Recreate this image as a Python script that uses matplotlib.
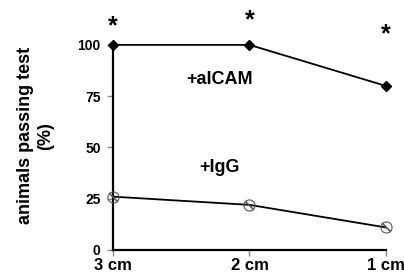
import matplotlib
matplotlib.use('Agg')
import matplotlib.pyplot as plt

plt.rcParams['font.family'] = ['Liberation Sans', 'DejaVu Sans']
plt.rcParams['font.weight'] = 'bold'

distances = ['3 cm', '2 cm', '1 cm']
aicam = [100, 100, 80]
igg = [26, 22, 11]
star_y = [109, 112, 105]
y_ticks = [0, 25, 50, 75, 100]

fig = plt.figure(figsize=(4.04, 2.77), dpi=100)
ax = fig.add_axes([0.28, 0.0975, 0.675, 0.7405])

x = list(range(len(distances)))
ax.plot(x, aicam, color='black', lw=1.3, marker='D', ms=5, clip_on=False, zorder=3)
ax.plot(x, igg, color='black', lw=1.3, zorder=2)
ax.plot(x, igg, ls='none', marker='o', ms=8, mfc='none', mec='#555555', mew=0.8,
        clip_on=False, zorder=3)
ax.plot(x, igg, ls='none', marker=(2, 2, 45), ms=9, mec='#555555', mew=0.8,
        clip_on=False, zorder=3)

for xi, yi in zip(x, star_y):
    ax.text(xi, yi, '*', ha='center', va='center', fontsize=18, fontweight='bold')

ax.text(0.78, 83, '+aICAM', ha='center', va='center', fontsize=13, fontweight='bold')
ax.text(0.78, 40, '+IgG', ha='center', va='center', fontsize=13, fontweight='bold')

ax.set_xlim(0, 2)
ax.set_ylim(0, 100)
ax.set_xticks(x)
ax.set_xticklabels(distances, fontsize=12, fontweight='bold')
ax.set_yticks(y_ticks)
ax.set_yticklabels([str(t) for t in y_ticks], fontsize=10, fontweight='bold')
ax.tick_params(axis='y', length=4, color='#888888', width=1, pad=5)
ax.tick_params(axis='x', length=4, color='#888888', width=1, pad=2)

for s in ['top', 'right']:
    ax.spines[s].set_visible(False)
for s in ['left', 'bottom']:
    ax.spines[s].set_linewidth(1.6)

fig.text(0.062, 0.51, 'animals passing test', rotation=90, ha='center', va='center',
         fontsize=13, fontweight='bold')
fig.text(0.112, 0.51, '(%)', rotation=90, ha='center', va='center',
         fontsize=13, fontweight='bold')

fig.savefig('out.png', dpi=100)
